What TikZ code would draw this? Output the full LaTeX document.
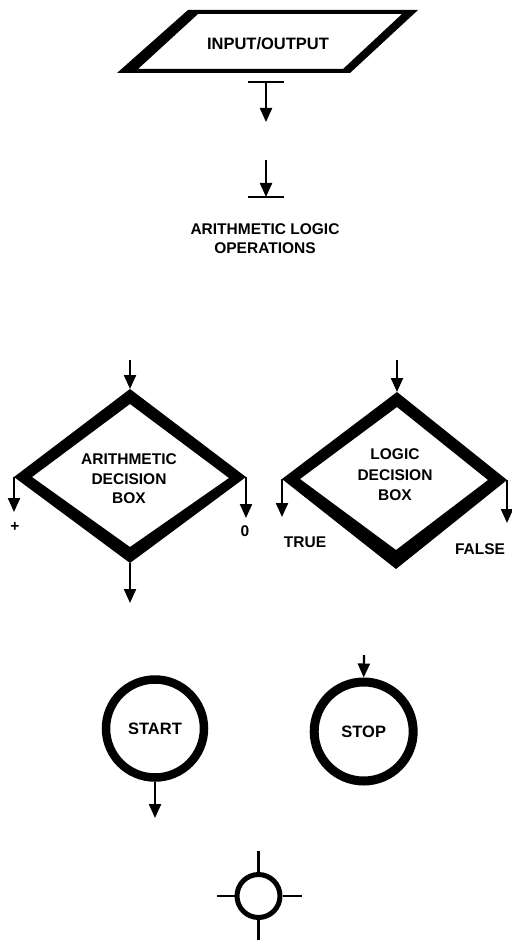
\documentclass[tikz,border=0pt]{standalone}
\usepackage{fontspec}
\setmainfont{Liberation Sans}
\usetikzlibrary{arrows.meta}
\begin{document}
\begin{tikzpicture}[x=1pt,y=-1pt,
  flow/.style={line width=2.2pt,-{Triangle[length=14pt,width=12pt]}},
  tick/.style={line width=2.2pt},
  ring/.style={fill=black,even odd rule},
  lbl/.style={font=\bfseries\fontsize{15.5}{#1}\selectfont,align=center,inner sep=0pt},
  lbl/.default=19.5,
  biglbl/.style={font=\bfseries\fontsize{16.5}{20}\selectfont,inner sep=0pt},
  term/.style={circle,draw,inner sep=0pt,font=\bfseries\fontsize{16.5}{20}\selectfont}
]
\useasboundingbox (0,0) rectangle (511,941);

% ---- input/output parallelogram ----
\fill[ring] (188,10) -- (418,10) -- (350,73) -- (117,73) -- cycle
            (198,14) -- (402,14) -- (343,69) -- (138,69) -- cycle;
\node[biglbl,anchor=base] (io) at (268,50) {INPUT/OUTPUT};

% ---- arithmetic / logic operation entry and exit ----
\coordinate (b1l) at (248,82);  \coordinate (b1r) at (284,82);
\coordinate (a1s) at (266,82);  \coordinate (a1e) at (266,122);
\draw[tick] (b1l) -- (b1r);
\draw[flow] (a1s) -- (a1e);
\coordinate (b2l) at (248,197); \coordinate (b2r) at (284,197);
\coordinate (a2s) at (266,160); \coordinate (a2e) at (266,197);
\draw[tick] (b2l) -- (b2r);
\draw[flow] (a2s) -- (a2e);
\node[lbl=19] (alo) at (265,239) {ARITHMETIC LOGIC\\OPERATIONS};

% ---- arithmetic decision box ----
\coordinate (d1t) at (130,389); \coordinate (d1r) at (246,477);
\coordinate (d1b) at (130,563); \coordinate (d1l) at (14,477);
\fill[ring] (d1t) -- (d1r) -- (d1b) -- (d1l) -- cycle
            (130,404) -- (229,478) -- (130,547) -- (32,477) -- cycle;
\node[lbl] (d1txt) at (129,479) {ARITHMETIC\\DECISION\\BOX};
\coordinate (d1in) at (130,360);
\coordinate (d1lo) at (14,512);
\coordinate (d1ro) at (246,518);
\coordinate (d1bo) at (130,603);
\draw[flow] (d1in) -- (d1t);
\draw[flow] (d1l) -- (d1lo);
\draw[flow] (d1r) -- (d1ro);
\draw[flow] (d1b) -- (d1bo);
\node[lbl] (plus) at (15,527) {+};
\node[lbl] (zero) at (245,531) {0};

% ---- logic decision box ----
\coordinate (d2t) at (397,392); \coordinate (d2r) at (507,480);
\coordinate (d2b) at (396,569); \coordinate (d2l) at (282,479);
\fill[ring] (d2t) -- (d2r) -- (d2b) -- (d2l) -- cycle
            (397,407) -- (488,480) -- (396,550) -- (300,479) -- cycle;
\node[lbl=20.5] (d2txt) at (395,475) {LOGIC\\DECISION\\BOX};
\coordinate (d2in) at (397,360);
\coordinate (d2lo) at (282,517);
\coordinate (d2ro) at (507,523);
\draw[flow] (d2in) -- (d2t);
\draw[flow] (d2l) -- (d2lo);
\draw[flow] (d2r) -- (d2ro);
\node[lbl] (true) at (305,542) {TRUE};
\node[lbl] (false) at (480,549) {FALSE};

% ---- terminals ----
\node[term,line width=8.5pt,minimum size=98pt] (start) at (155,728.5) {START};
\coordinate (starto) at (155,818);
\draw[flow] (start.south) -- (starto);
\node[term,line width=9pt,minimum size=99pt] (stop) at (363.7,731.5) {STOP};
\coordinate (stopin) at (364,655);
\draw[flow] (stopin) -- (stop.north);

% ---- connector ----
\node[circle,draw,line width=5pt,minimum size=43pt,inner sep=0pt] (conn) at (258.5,896) {};
\coordinate (ct) at (258.5,851); \coordinate (cb) at (258.5,940);
\coordinate (cl) at (217,896);   \coordinate (cr) at (302,896);
\draw[tick] (ct) -- (conn.north);
\draw[tick] (conn.south) -- (cb);
\draw[tick] (cl) -- (conn.west);
\draw[tick] (conn.east) -- (cr);
\end{tikzpicture}
\end{document}
